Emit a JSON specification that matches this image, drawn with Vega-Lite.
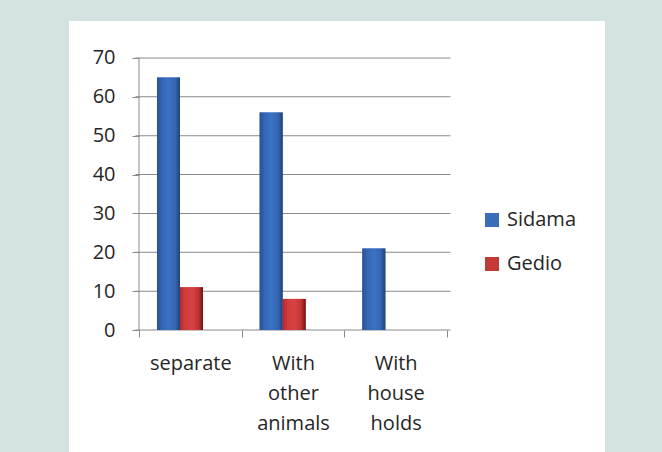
{
  "$schema": "https://vega.github.io/schema/vega-lite/v6.json",
  "width": 536,
  "height": 431,
  "autosize": {"type": "none"},
  "padding": {"left": 69, "top": 21, "right": 57, "bottom": 0},
  "background": "#d4e2e1",
  "config": {
    "view": {"fill": "white", "stroke": null},
    "font": "Open Sans",
    "axis": {"labelFont": "Open Sans", "labelFontSize": 20, "labelColor": "#262626", "domain": false, "grid": false, "tickColor": "#8a8a8a", "tickSize": 7}
  },
  "datasets": {
    "bars": [
      {"place": "separate", "series": "Sidama", "value": 65},
      {"place": "separate", "series": "Gedio", "value": 11},
      {"place": "With other animals", "series": "Sidama", "value": 56},
      {"place": "With other animals", "series": "Gedio", "value": 8},
      {"place": "With house holds", "series": "Sidama", "value": 21},
      {"place": "With house holds", "series": "Gedio", "value": 0}
    ],
    "ticks": [{"v": 0}, {"v": 10}, {"v": 20}, {"v": 30}, {"v": 40}, {"v": 50}, {"v": 60}, {"v": 70}]
  },
  "layer": [
    {
      "data": {"name": "ticks"},
      "mark": {"type": "tick", "orient": "horizontal", "size": 315, "thickness": 1, "color": "#8a8a8a", "opacity": 1},
      "encoding": {
        "y": {"field": "v", "type": "quantitative", "scale": {"domain": [-31.397, 79.522], "nice": false, "zero": false}, "axis": {"title": null, "offset": -70, "values": [0, 10, 20, 30, 40, 50, 60, 70], "labelPadding": 17, "ticks": true}},
        "x": {"datum": "With other animals", "type": "nominal", "bandPosition": 0.4659, "scale": {"type": "band", "domain": ["separate", "With other animals", "With house holds"], "range": [70, 378], "paddingInner": 0, "paddingOuter": 0, "round": false}}
      }
    },
    {
      "data": {"values": [{"a": 1}]},
      "mark": {"type": "rule", "color": "#8a8a8a", "strokeWidth": 1},
      "encoding": {
        "x": {"datum": "separate", "type": "nominal", "bandPosition": 0.0001, "scale": {"type": "band", "domain": ["separate", "With other animals", "With house holds"], "range": [70, 378], "paddingInner": 0, "paddingOuter": 0, "round": false}},
        "y": {"datum": 0, "type": "quantitative", "scale": {"domain": [-31.397, 79.522], "nice": false, "zero": false}},
        "y2": {"datum": 70}
      }
    },
    {
      "data": {"name": "bars"},
      "mark": {"type": "bar"},
      "encoding": {
        "x": {"field": "place", "type": "nominal", "sort": null, "scale": {"type": "band", "domain": ["separate", "With other animals", "With house holds"], "range": [70, 378], "paddingInner": 0, "paddingOuter": 0, "round": false}, "axis": {"title": null, "offset": -122, "tickBand": "extent", "labelAngle": 0, "labelAlign": "center", "labelPadding": 26, "labelExpr": "datum.value == null ? '' : split(datum.value, ' ')", "labelLineHeight": 30}},
        "xOffset": {"field": "series", "type": "nominal", "scale": {"domain": ["Sidama", "Gedio"], "range": [18, 64], "paddingInner": 0, "paddingOuter": 0}},
        "y": {"field": "value", "type": "quantitative", "stack": null, "scale": {"domain": [-31.397, 79.522], "nice": false, "zero": false}, "axis": {"title": null, "offset": -70, "values": [0, 10, 20, 30, 40, 50, 60, 70], "labelPadding": 17, "ticks": true}},
        "y2": {"datum": 0},
        "color": {"field": "series", "type": "nominal", "scale": {"domain": ["Sidama", "Gedio"], "range": ["#3a6cb8", "#c23a36"]}, "legend": {"orient": "none", "legendX": 413, "legendY": 189, "title": null, "symbolType": "square", "symbolSize": 196, "symbolStrokeWidth": 0, "labelFontSize": 20, "labelFont": "Open Sans", "labelColor": "#262626", "rowPadding": 24, "labelOffset": 5, "padding": 0}}
      }
    },
    {
      "data": {"name": "bars"},
      "transform": [{"filter": "datum.series === 'Sidama'"}],
      "mark": {"type": "bar", "fill": {"gradient": "linear", "x1": 0, "x2": 1, "y1": 0, "y2": 0, "stops": [{"offset": 0, "color": "#28508f"}, {"offset": 0.2, "color": "#3465b3"}, {"offset": 0.5, "color": "#3b72c4"}, {"offset": 0.8, "color": "#3465b3"}, {"offset": 1, "color": "#1f4276"}]}},
      "encoding": {
        "x": {"field": "place", "type": "nominal", "sort": null, "scale": {"type": "band", "domain": ["separate", "With other animals", "With house holds"], "range": [70, 378], "paddingInner": 0, "paddingOuter": 0, "round": false}},
        "xOffset": {"field": "series", "type": "nominal", "scale": {"domain": ["Sidama", "Gedio"], "range": [18, 64], "paddingInner": 0, "paddingOuter": 0}},
        "y": {"field": "value", "type": "quantitative", "stack": null},
        "y2": {"datum": 0}
      }
    },
    {
      "data": {"name": "bars"},
      "transform": [{"filter": "datum.series === 'Gedio' && datum.value > 0"}],
      "mark": {"type": "bar", "fill": {"gradient": "linear", "x1": 0, "x2": 1, "y1": 0, "y2": 0, "stops": [{"offset": 0, "color": "#b52a2a"}, {"offset": 0.2, "color": "#cf3a3a"}, {"offset": 0.5, "color": "#d84444"}, {"offset": 0.8, "color": "#c23434"}, {"offset": 1, "color": "#6e1212"}]}},
      "encoding": {
        "x": {"field": "place", "type": "nominal", "sort": null, "scale": {"type": "band", "domain": ["separate", "With other animals", "With house holds"], "range": [70, 378], "paddingInner": 0, "paddingOuter": 0, "round": false}},
        "xOffset": {"field": "series", "type": "nominal", "scale": {"domain": ["Sidama", "Gedio"], "range": [18, 64], "paddingInner": 0, "paddingOuter": 0}},
        "y": {"field": "value", "type": "quantitative", "stack": null},
        "y2": {"datum": 0}
      }
    }
  ]
}
